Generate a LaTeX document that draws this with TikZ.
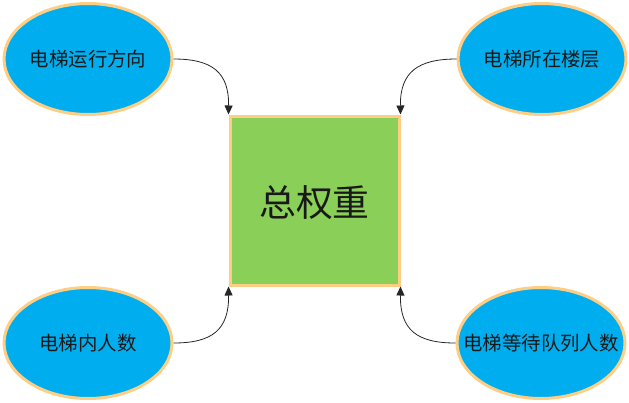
\documentclass[tikz,border=0pt]{standalone}
\usepackage{fontspec}
\setmainfont{Noto Sans CJK SC}
\usetikzlibrary{shapes.geometric,arrows.meta}
\definecolor{ellfill}{RGB}{0,174,239}
\definecolor{bord}{RGB}{255,206,133}
\definecolor{sqfill}{RGB}{138,207,87}
\definecolor{txt}{RGB}{25,25,25}
\tikzset{
  ell/.style={ellipse, draw=bord, fill=ellfill, line width=3bp, minimum width=168bp, minimum height=111bp, inner sep=0pt, text=txt, font=\fontsize{19.5}{22}\selectfont},
  sq/.style={rectangle, draw=bord, fill=sqfill, line width=3bp, minimum width=169bp, minimum height=169bp, inner sep=0pt, text=txt, font=\fontsize{37}{42}\selectfont},
  conn/.style={draw=black!85, line width=0.8bp, -{Triangle[length=9bp,width=8bp]}}
}
\newcommand{\zw}[1]{\makebox[0pt]{#1}}
\begin{document}
\begin{tikzpicture}[x=1bp,y=-1bp]
\useasboundingbox (0,0) rectangle (629,402);
\node[sq] (c) at (314.5,200.5) {};
\node[text=txt, font=\fontsize{37}{42}\selectfont, inner sep=0pt] (ct) at (314.5,203) {总权重};
\node[ell] (a) at (88,59) {\zw{电梯运行方向}};
\node[ell] (b) at (542,59) {\zw{电梯所在楼层}};
\node[ell] (d) at (88,343) {\zw{电梯内人数}};
\node[ell] (e) at (541,343) {\zw{电梯等待队列人数}};
\draw[conn] (a.east) .. controls (212,59) and (229,72) .. (c.north west);
\draw[conn] (b.west) .. controls (418,59) and (400,72) .. (c.north east);
\draw[conn] (d.east) .. controls (212,343) and (229,330) .. (c.south west);
\draw[conn] (e.west) .. controls (417,343) and (400,330) .. (c.south east);
\end{tikzpicture}
\end{document}
